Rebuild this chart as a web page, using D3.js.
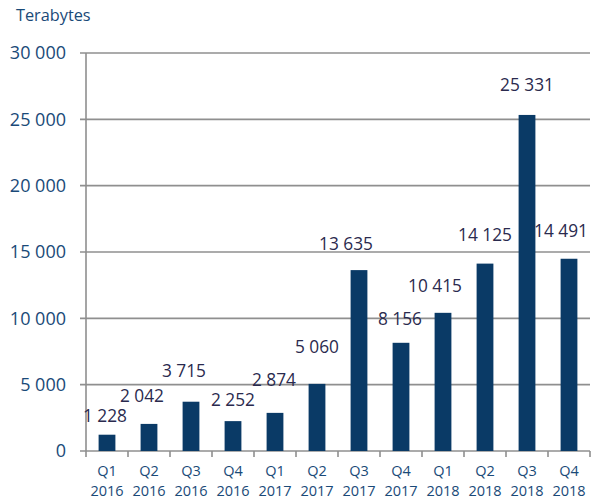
<!DOCTYPE html>
<html>
<head>
<meta charset="utf-8">
<script src="https://cdn.jsdelivr.net/npm/d3@7"></script>
<style>
  html, body { margin: 0; padding: 0; background: #fff; }
  svg { display: block; font-family: "Open Sans", "Liberation Sans", sans-serif; }
</style>
</head>
<body>
<svg id="chart" width="595" height="504"></svg>
<script>
// Quarterly volume, in terabytes
const quarters = ["Q1", "Q2", "Q3", "Q4", "Q1", "Q2", "Q3", "Q4", "Q1", "Q2", "Q3", "Q4"];
const years = ["2016", "2016", "2016", "2016", "2017", "2017", "2017", "2017", "2018", "2018", "2018", "2018"];
const values = [1228, 2042, 3715, 2252, 2874, 5060, 13635, 8156, 10415, 14125, 25331, 14491];
const yTicks = [0, 5000, 10000, 15000, 20000, 25000, 30000];

// Hand-placed label nudges (dx, dy in px) relative to the default spot above each bar
const labelNudge = [
  [-2, 9], [-7, 0], [-7, -3], [0, 7], [-1, -5], [0, -9],
  [-13, 2], [-1, 4], [-8, 1], [0, -1], [0, -2], [-8, 0]
];

const svg = d3.select("#chart");
const margin = { left: 86, right: 5, top: 53, bottom: 53 };
const W = 595, H = 504;
const x0 = margin.left, x1 = W - margin.right;
const y0 = H - margin.bottom, y1 = margin.top;

const keys = values.map((d, i) => i);
const x = d3.scaleBand().domain(keys).range([x0, x1]).paddingInner(0.6).paddingOuter(0.3);
const y = d3.scaleLinear().domain([0, 30000]).range([y0, y1]);

const fmt = v => d3.format(",")(v).replace(/,/g, " ");

const gridColor = "#8f8f8f";
const tickBlue = "#1a4a78";
const labelInk = "#2a2a4e";
const barFill = "#0a3a66";

// Gridlines with short outer ticks
svg.append("g")
  .selectAll("line")
  .data(yTicks)
  .join("line")
  .attr("x1", x0 - 6)
  .attr("x2", x1)
  .attr("y1", d => y(d))
  .attr("y2", d => y(d))
  .attr("stroke", gridColor)
  .attr("stroke-width", 1.6);

// Vertical axis line
svg.append("line")
  .attr("x1", x0).attr("x2", x0)
  .attr("y1", y1).attr("y2", y0)
  .attr("stroke", gridColor).attr("stroke-width", 1.6);

// Category tick marks below the baseline
svg.append("g")
  .selectAll("line")
  .data(d3.range(keys.length + 1))
  .join("line")
  .attr("x1", i => x0 + i * x.step())
  .attr("x2", i => x0 + i * x.step())
  .attr("y1", y0)
  .attr("y2", y0 + 6)
  .attr("stroke", gridColor)
  .attr("stroke-width", 1.6);

// Y tick labels
svg.append("g")
  .selectAll("text")
  .data(yTicks)
  .join("text")
  .attr("x", 66)
  .attr("y", d => y(d))
  .attr("dy", "0.36em")
  .attr("text-anchor", "end")
  .attr("fill", tickBlue)
  .attr("font-size", 18)
  .text(fmt);

// Axis title
svg.append("text")
  .attr("x", 16)
  .attr("y", 21)
  .attr("fill", tickBlue)
  .attr("font-size", 16.3)
  .text("Terabytes");

// Bars
svg.append("g")
  .selectAll("rect")
  .data(values)
  .join("rect")
  .attr("x", (d, i) => x(i))
  .attr("width", x.bandwidth())
  .attr("y", d => y(d))
  .attr("height", d => y0 - y(d))
  .attr("fill", barFill);

// X labels (two lines)
const xl = svg.append("g")
  .selectAll("text")
  .data(keys)
  .join("text")
  .attr("text-anchor", "middle")
  .attr("fill", tickBlue)
  .attr("font-size", 14.5);
xl.append("tspan")
  .attr("x", i => x(i) + x.bandwidth() / 2)
  .attr("y", 476)
  .text(i => quarters[i]);
xl.append("tspan")
  .attr("x", i => x(i) + x.bandwidth() / 2)
  .attr("y", 496)
  .text(i => years[i]);

// Value labels
svg.append("g")
  .selectAll("text")
  .data(values)
  .join("text")
  .attr("x", (d, i) => x(i) + x.bandwidth() / 2 + labelNudge[i][0])
  .attr("y", (d, i) => y(d) - 28 + labelNudge[i][1])
  .attr("dy", "0.36em")
  .attr("text-anchor", "middle")
  .attr("fill", labelInk)
  .attr("font-size", 17.3)
  .text(fmt);
</script>
</body>
</html>
